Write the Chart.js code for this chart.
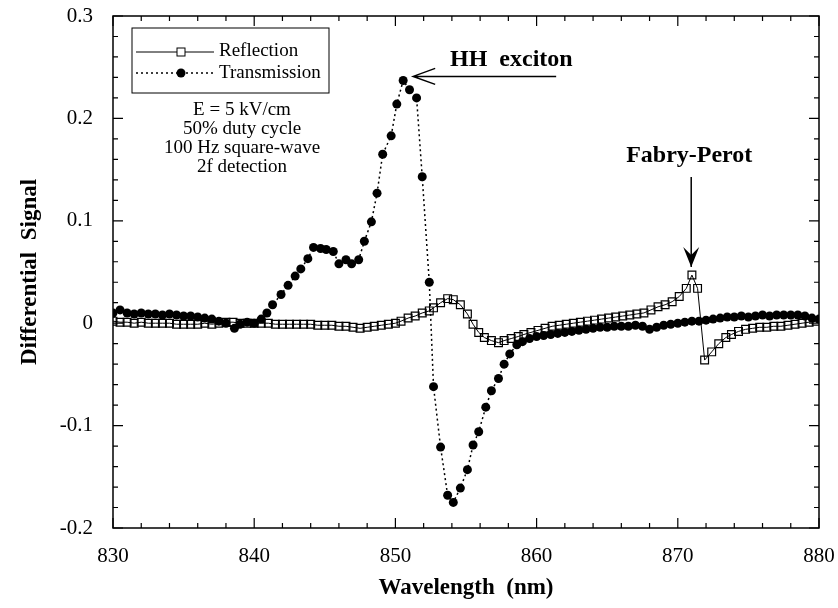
<!DOCTYPE html>
<html>
<head>
<meta charset="utf-8">
<script src="https://cdn.jsdelivr.net/npm/chart.js@4.4.1/dist/chart.umd.min.js"></script>
<style>
  html, body { margin: 0; padding: 0; background: #fff; }
  #wrap { width: 838px; height: 608px; }
</style>
</head>
<body>
<div id="wrap"><canvas id="chart" width="838" height="608"></canvas></div>
<script>
// wavelengths (nm) and signals
const reflWl = [830, 830.5, 831, 831.5, 832, 832.5, 833, 833.5, 834, 834.5, 835, 835.5, 836, 836.5, 837, 837.5, 838, 838.5, 839, 839.5,
  840, 840.5, 841, 841.5, 842, 842.5, 843, 843.5, 844, 844.5, 845, 845.5, 846, 846.5, 847, 847.5, 848, 848.5, 849, 849.5, 850,
  850.4, 850.9, 851.4, 851.9, 852.4, 852.7, 853.2, 853.7, 854.1, 854.6, 855.1, 855.5, 855.9, 856.3, 856.8, 857.3, 857.7, 858.2, 858.7,
  859.1, 859.6, 860.1, 860.6, 861.1, 861.6, 862.1, 862.6, 863.1, 863.6, 864.1, 864.6, 865.1, 865.6, 866.1, 866.6, 867.1, 867.6,
  868.1, 868.6, 869.1, 869.6, 870.1, 870.6, 871.0, 871.4, 871.9, 872.4, 872.9, 873.4, 873.8, 874.3, 874.8, 875.3, 875.8, 876.3,
  876.8, 877.3, 877.8, 878.3, 878.8, 879.3, 879.8];
const reflVal = [0.002, 0.001, 0.001, 0.000, 0.001, 0.000, 0.000, 0.000, 0.000, -0.001, -0.001, -0.001, -0.001, 0.000, -0.001, 0.000, 0.001, 0.001, 0.000, 0.000,
  0.000, 0.000, 0.000, -0.001, -0.001, -0.001, -0.001, -0.001, -0.001, -0.002, -0.002, -0.002, -0.003, -0.003, -0.004, -0.005, -0.004, -0.003, -0.002, -0.001, 0.000,
  0.002, 0.005, 0.007, 0.010, 0.012, 0.015, 0.020, 0.024, 0.023, 0.018, 0.009, -0.001, -0.009, -0.014, -0.017, -0.019, -0.017, -0.015, -0.013,
  -0.011, -0.009, -0.007, -0.005, -0.003, -0.002, -0.001, 0.000, 0.001, 0.002, 0.003, 0.004, 0.005, 0.006, 0.007, 0.008, 0.009, 0.010,
  0.013, 0.016, 0.018, 0.021, 0.026, 0.034, 0.047, 0.034, -0.036, -0.028, -0.020, -0.014, -0.011, -0.008, -0.006, -0.005, -0.004, -0.004,
  -0.003, -0.003, -0.002, -0.001, 0.000, 0.001, 0.002];

const transWl = [830, 830.5, 831, 831.5, 832, 832.5, 833, 833.5, 834, 834.5, 835, 835.5, 836, 836.5, 837, 837.5, 838, 838.6, 839, 839.5,
  840, 840.5, 840.9, 841.3, 841.9, 842.4, 842.9, 843.3, 843.8, 844.2, 844.7, 845.1, 845.6, 846.0, 846.5, 846.9, 847.4, 847.8, 848.3,
  848.7, 849.1, 849.7, 850.1, 850.55, 851.0, 851.5, 851.9, 852.4, 852.7, 853.2, 853.7, 854.1, 854.6, 855.1, 855.5, 855.9, 856.4, 856.8,
  857.3, 857.7, 858.1, 858.6, 859, 859.5, 860, 860.5, 861, 861.5, 862, 862.5, 863, 863.5, 864, 864.5, 865, 865.5, 866, 866.5, 867,
  867.5, 868, 868.5, 869, 869.5, 870, 870.5, 871, 871.5, 872, 872.5, 873, 873.5, 874, 874.5, 875, 875.5, 876, 876.5, 877, 877.5,
  878, 878.5, 879, 879.5, 880];
const transVal = [0.010, 0.013, 0.010, 0.009, 0.010, 0.009, 0.009, 0.008, 0.009, 0.008, 0.007, 0.007, 0.006, 0.005, 0.004, 0.002, 0.000, -0.005, -0.001, 0.001,
  0.000, 0.004, 0.010, 0.018, 0.028, 0.037, 0.046, 0.053, 0.063, 0.074, 0.073, 0.072, 0.070, 0.058, 0.062, 0.058, 0.062, 0.080, 0.099,
  0.127, 0.165, 0.183, 0.214, 0.237, 0.228, 0.220, 0.143, 0.040, -0.062, -0.121, -0.168, -0.175, -0.161, -0.143, -0.119, -0.106, -0.082, -0.066,
  -0.054, -0.040, -0.030, -0.021, -0.018, -0.015, -0.013, -0.012, -0.011, -0.010, -0.009, -0.008, -0.007, -0.006, -0.005, -0.004, -0.004, -0.003, -0.003, -0.003, -0.002,
  -0.003, -0.006, -0.004, -0.002, -0.001, 0.000, 0.001, 0.002, 0.002, 0.003, 0.004, 0.005, 0.006, 0.006, 0.007, 0.006, 0.007, 0.008, 0.007, 0.008, 0.008,
  0.008, 0.008, 0.007, 0.005, 0.004];

const xTicks = [830, 840, 850, 860, 870, 880];
const yTicks = [-0.2, -0.1, 0, 0.1, 0.2, 0.3];
const seriesNames = ['Reflection', 'Transmission'];
const noteLines = ['E = 5 kV/cm', '50% duty cycle', '100 Hz square-wave', '2f detection'];

const serif = "'Liberation Serif', 'Times New Roman', serif";

function toPoints(xs, ys) {
    return xs.map(function(x, i) { return { x: x, y: ys[i] }; });
}

// frame with inward major/minor ticks on all four sides
const framePlugin = {
    id: 'frame',
    afterDraw: function(chart) {
        const ctx = chart.ctx;
        const a = chart.chartArea;
        const xs = chart.scales.x;
        const ys = chart.scales.y;
        ctx.save();
        ctx.strokeStyle = '#000';
        ctx.lineWidth = 1.5;
        ctx.strokeRect(a.left, a.top, a.right - a.left, a.bottom - a.top);
        ctx.lineWidth = 1.2;
        ctx.beginPath();
        for (let v = 830; v <= 880; v += 2) {
            const px = xs.getPixelForValue(v);
            const len = (v % 10 === 0) ? 10 : 5;
            ctx.moveTo(px, a.bottom); ctx.lineTo(px, a.bottom - len);
            ctx.moveTo(px, a.top); ctx.lineTo(px, a.top + len);
        }
        for (let i = -10; i <= 15; i++) {
            const v = i * 0.02;
            const py = ys.getPixelForValue(v);
            const len = (i % 5 === 0) ? 10 : 5;
            ctx.moveTo(a.left, py); ctx.lineTo(a.left + len, py);
            ctx.moveTo(a.right, py); ctx.lineTo(a.right - len, py);
        }
        ctx.stroke();
        ctx.restore();
    }
};

// legend box, condition notes and the two arrows
const notesPlugin = {
    id: 'notes',
    afterDraw: function(chart) {
        const ctx = chart.ctx;
        const xs = chart.scales.x;
        const ys = chart.scales.y;
        ctx.save();

        // legend
        ctx.strokeStyle = '#000';
        ctx.lineWidth = 1;
        ctx.strokeRect(132, 28, 197, 65);
        ctx.beginPath();
        ctx.moveTo(136, 52); ctx.lineTo(214, 52);
        ctx.stroke();
        ctx.fillStyle = '#fff';
        ctx.fillRect(177, 48, 8, 8);
        ctx.strokeRect(177, 48, 8, 8);
        ctx.setLineDash([2, 3]);
        ctx.lineWidth = 1.5;
        ctx.beginPath();
        ctx.moveTo(136, 73); ctx.lineTo(214, 73);
        ctx.stroke();
        ctx.setLineDash([]);
        ctx.fillStyle = '#000';
        ctx.beginPath();
        ctx.arc(181, 73, 4.5, 0, Math.PI * 2);
        ctx.fill();
        ctx.font = '19px ' + serif;
        ctx.textAlign = 'left';
        ctx.textBaseline = 'middle';
        ctx.fillText(seriesNames[0], 219, 51);
        ctx.fillText(seriesNames[1], 219, 73);

        // conditions
        ctx.textAlign = 'center';
        noteLines.forEach(function(t, i) {
            ctx.fillText(t, 242, 110 + i * 19);
        });

        // HH exciton arrow
        const hx = xs.getPixelForValue(850.55) + 10;
        const hy = ys.getPixelForValue(0.241);
        ctx.lineWidth = 1.5;
        ctx.beginPath();
        ctx.moveTo(hx, hy); ctx.lineTo(hx + 143, hy);
        ctx.moveTo(hx + 22, hy - 8); ctx.lineTo(hx, hy); ctx.lineTo(hx + 22, hy + 8);
        ctx.stroke();
        ctx.font = 'bold 24px ' + serif;
        ctx.textAlign = 'left';
        ctx.textBaseline = 'alphabetic';
        ctx.fillText('HH  exciton', 450, 66);

        // Fabry-Perot arrow
        const fx = xs.getPixelForValue(870.95);
        const fy = ys.getPixelForValue(0.055);
        ctx.beginPath();
        ctx.moveTo(fx, fy - 90); ctx.lineTo(fx, fy);
        ctx.stroke();
        ctx.beginPath();
        ctx.moveTo(fx - 8, fy - 20); ctx.lineTo(fx, fy); ctx.lineTo(fx + 8, fy - 20);
        ctx.lineTo(fx, fy - 12); ctx.closePath();
        ctx.fill();
        ctx.textAlign = 'center';
        ctx.fillText('Fabry-Perot', fx - 2, 162);
        ctx.restore();
    }
};

const ctx = document.getElementById('chart').getContext('2d');
const chart = new Chart(ctx, {
    type: 'line',
    data: {
        datasets: [{
            label: seriesNames[0],
            data: toPoints(reflWl, reflVal),
            borderColor: '#000',
            borderWidth: 1,
            pointStyle: 'rect',
            pointRadius: 5.5,
            pointBackgroundColor: 'rgba(255,255,255,0)',
            pointBorderColor: '#000',
            pointBorderWidth: 1.2,
            tension: 0
        }, {
            label: seriesNames[1],
            data: toPoints(transWl, transVal),
            borderColor: '#000',
            borderWidth: 1.5,
            borderDash: [2, 3],
            pointStyle: 'circle',
            pointRadius: 4.5,
            pointBackgroundColor: '#000',
            pointBorderColor: '#000',
            pointBorderWidth: 0,
            tension: 0
        }]
    },
    options: {
        responsive: false,
        animation: false,
        layout: { padding: 0 },
        plugins: {
            legend: { display: false },
            tooltip: { enabled: false }
        },
        scales: {
            x: {
                type: 'linear',
                min: 830,
                max: 880,
                afterBuildTicks: function(scale) {
                    scale.ticks = xTicks.map(function(v) { return { value: v }; });
                },
                afterFit: function(scale) {
                    scale.height = 80;
                    scale.paddingLeft = 0;
                    scale.paddingRight = 19;
                },
                grid: { display: false, drawTicks: false },
                border: { display: false },
                ticks: {
                    color: '#000',
                    padding: 16,
                    font: { family: serif, size: 21 },
                    maxRotation: 0
                },
                title: {
                    display: true,
                    text: 'Wavelength  (nm)',
                    color: '#000',
                    font: { family: serif, size: 23, weight: 'bold' },
                    padding: { top: 0, bottom: 6 }
                }
            },
            y: {
                min: -0.2,
                max: 0.3,
                afterBuildTicks: function(scale) {
                    scale.ticks = yTicks.map(function(v) { return { value: v }; });
                },
                afterFit: function(scale) {
                    scale.width = 113;
                    scale.paddingTop = 16;
                    scale.paddingBottom = 0;
                },
                grid: { display: false, drawTicks: false },
                border: { display: false },
                ticks: {
                    color: '#000',
                    padding: 20,
                    font: { family: serif, size: 21 },
                    callback: function(v) { return String(Math.round(v * 10) / 10); }
                },
                title: {
                    display: true,
                    text: 'Differential  Signal',
                    color: '#000',
                    font: { family: serif, size: 23, weight: 'bold' },
                    padding: { top: 16, bottom: 0 }
                }
            }
        }
    },
    plugins: [framePlugin, notesPlugin]
});
</script>
</body>
</html>
